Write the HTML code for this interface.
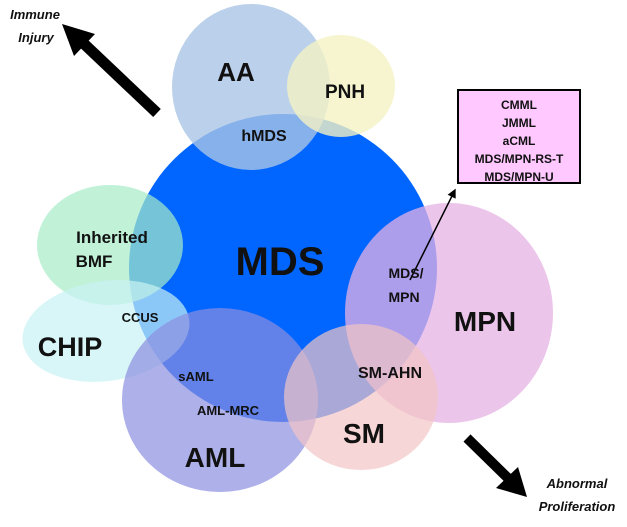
<!DOCTYPE html>
<html><head><style>
body{margin:0;background:#fff;}
svg text{font-family:"Liberation Sans",sans-serif;font-weight:bold;fill:#111;text-anchor:middle;}
</style></head><body>
<svg width="627" height="522" viewBox="0 0 627 522" xmlns="http://www.w3.org/2000/svg">
<defs>
<marker id="ah" markerWidth="6" markerHeight="6" refX="5" refY="3" orient="auto"><path d="M0,0L6,3L0,6z" fill="#000"/></marker>
</defs>
<circle cx="283" cy="268" r="154" fill="#0066ff"/>
<ellipse cx="251" cy="87" rx="79" ry="83" fill="#a9c4e6" fill-opacity="0.8"/>
<ellipse cx="341" cy="86" rx="54" ry="51" fill="#f4f2c4" fill-opacity="0.8"/>
<ellipse cx="110" cy="245" rx="73" ry="60" fill="#a6ecc8" fill-opacity="0.7"/>
<ellipse cx="106" cy="331" rx="84" ry="50" transform="rotate(-8 106 331)" fill="#c8f2f4" fill-opacity="0.7"/>
<ellipse cx="220" cy="400" rx="98" ry="92" fill="#8c8ee0" fill-opacity="0.7"/>
<ellipse cx="449" cy="313" rx="104" ry="110" fill="#e6b2e4" fill-opacity="0.75"/>
<ellipse cx="361" cy="397" rx="77" ry="73" fill="#f2c4c4" fill-opacity="0.7"/>
<line x1="157" y1="113" x2="80" y2="40" stroke="#000" stroke-width="11"/>
<path d="M62,24 L95,34 L74,56 z" fill="#000"/>
<line x1="467" y1="438" x2="512" y2="482" stroke="#000" stroke-width="10"/>
<path d="M527,497 L496,488 L518,467 z" fill="#000"/>
<line x1="410" y1="280" x2="455" y2="190" stroke="#000" stroke-width="1.5" marker-end="url(#ah)"/>
<rect x="458" y="90" width="122" height="93" fill="#ffc8ff" stroke="#000" stroke-width="2"/>
<text x="519" y="109" font-size="12">CMML</text>
<text x="519" y="127" font-size="12">JMML</text>
<text x="519" y="145" font-size="12">aCML</text>
<text x="519" y="163" font-size="12">MDS/MPN-RS-T</text>
<text x="519" y="181" font-size="12">MDS/MPN-U</text>
<text x="35" y="19" font-size="13" font-style="italic" >Immune</text>
<text x="36" y="42" font-size="13" font-style="italic">Injury</text>
<text x="577" y="488" font-size="13" font-style="italic">Abnormal</text>
<text x="577" y="511" font-size="13" font-style="italic">Proliferation</text>
<text x="236" y="81" font-size="26">AA</text>
<text x="345" y="98" font-size="19">PNH</text>
<text x="264" y="141" font-size="16">hMDS</text>
<text x="280" y="275" font-size="40">MDS</text>
<text x="112" y="243" font-size="17">Inherited</text>
<text x="94" y="267" font-size="17">BMF</text>
<text x="140" y="322" font-size="13">CCUS</text>
<text x="70" y="356" font-size="27">CHIP</text>
<text x="406" y="278" font-size="14">MDS/</text>
<text x="404" y="302" font-size="14">MPN</text>
<text x="485" y="331" font-size="28">MPN</text>
<text x="196" y="381" font-size="13">sAML</text>
<text x="228" y="415" font-size="13">AML-MRC</text>
<text x="215" y="467" font-size="28">AML</text>
<text x="390" y="378" font-size="16">SM-AHN</text>
<text x="364" y="443" font-size="28">SM</text>
</svg>
</body></html>
